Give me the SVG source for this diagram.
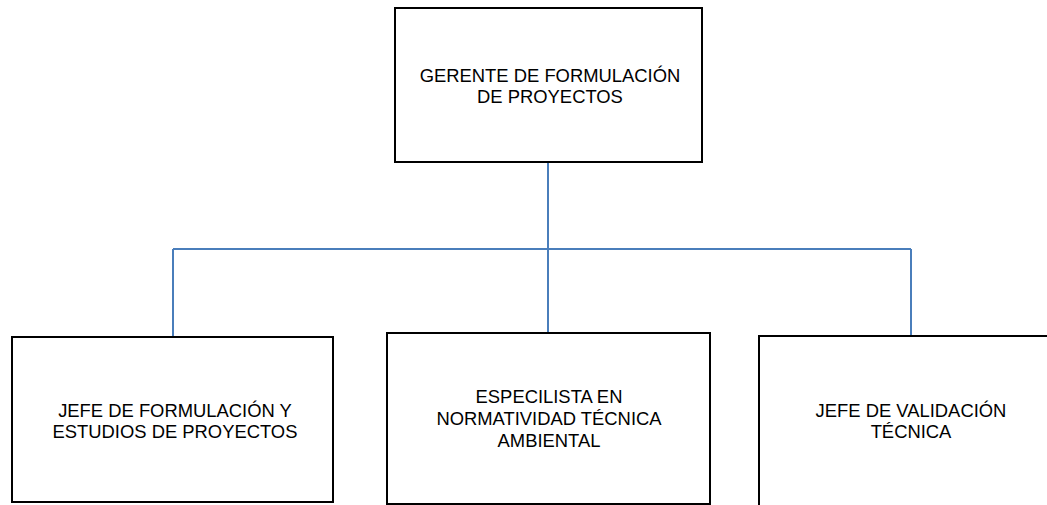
<svg xmlns="http://www.w3.org/2000/svg" width="1047" height="505" viewBox="0 0 1047 505">
<style>
.box{fill:#fff;stroke:#000;stroke-width:2}
.lbl{font-family:"Liberation Sans",Arial,sans-serif;font-size:18.4px;fill:#000;text-anchor:middle}
.conn{fill:none;stroke:#4a7ebb;stroke-width:2}
</style>
<rect width="1047" height="505" fill="#fff"/>
<g id="connectors">
<path class="conn" d="M548,162 V333"/>
<path class="conn" d="M173,249 H911"/>
<path class="conn" d="M173,249 V337"/>
<path class="conn" d="M911,249 V336"/>
</g>
<g id="gerente">
<rect class="box" x="395" y="8" width="307" height="154"/>
<text class="lbl" x="550" y="82">GERENTE DE FORMULACIÓN</text>
<text class="lbl" x="550" y="103">DE PROYECTOS</text>
</g>
<g id="jefe-formulacion">
<rect class="box" x="12" y="337" width="321" height="165"/>
<text class="lbl" x="175" y="417">JEFE DE FORMULACIÓN Y</text>
<text class="lbl" x="175" y="438">ESTUDIOS DE PROYECTOS</text>
</g>
<g id="especialista">
<rect class="box" x="387" y="333" width="323" height="171"/>
<text class="lbl" x="549" y="403">ESPECILISTA EN</text>
<text class="lbl" x="549" y="425">NORMATIVIDAD TÉCNICA</text>
<text class="lbl" x="549" y="447">AMBIENTAL</text>
</g>
<g id="jefe-validacion">
<rect class="box" x="759" y="336" width="300" height="180"/>
<text class="lbl" x="911" y="417">JEFE DE VALIDACIÓN</text>
<text class="lbl" x="911" y="438">TÉCNICA</text>
</g>
</svg>
